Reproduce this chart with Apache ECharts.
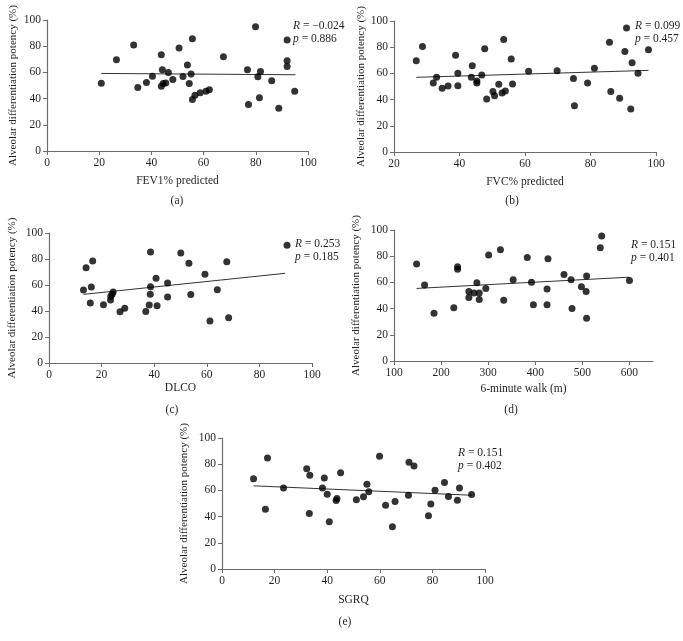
<!DOCTYPE html>
<html>
<head>
<meta charset="utf-8">
<script src="https://cdn.jsdelivr.net/npm/echarts@6/dist/echarts.min.js"></script>
<style>
html,body{margin:0;padding:0;background:#fff;}
#chart{width:683px;height:641px;}
</style>
</head>
<body>
<div id="chart"></div>
<script>
// ---- Data ----
const yTitle = 'Alveolar differentiation potency (%)';
const xTitles = ['FEV1% predicted', 'FVC% predicted', 'DLCO', '6-minute walk (m)', 'SGRQ'];
const captions = ['(a)', '(b)', '(c)', '(d)', '(e)'];
const rValues = ['−0.024', '0.099', '0.253', '0.151', '0.151'];
const pValues = ['0.886', '0.457', '0.185', '0.401', '0.402'];
const yTicks = [0, 20, 40, 60, 80, 100];
const walkTicks = [100, 200, 300, 400, 500, 600];

const fev1X = [20.8,26.6,33.2,34.8,38.1,40.4,43.8,44.2,43.8,44.5,45.5,46.5,48.2,50.6,52.1,53.8,55.7,55.2,54.5,55.7,56.7,58.7,60.9,62.2,67.6,76.8,77.2,79.9,80.8,81.4,81.8,86.1,88.8,92.0,92.0,92.0,94.9];
const fev1Y = [51.8,69.6,80.9,48.5,52.3,57.1,73.5,62.0,49.5,51.5,52.0,59.9,54.6,78.6,56.9,65.6,85.7,58.7,51.5,39.3,42.6,44.4,45.7,46.7,71.9,62.0,35.5,94.9,56.6,40.6,60.7,53.6,32.7,84.7,68.9,64.5,45.7];
const fev1Trend = [[20.8,59.2],[95.2,58.2]];

const fvcX = [26.8,28.7,32.0,33.0,34.7,36.5,38.8,39.5,39.5,43.6,43.9,45.3,45.3,46.8,47.7,48.3,50.2,50.7,52.0,53.0,53.5,54.0,55.8,56.2,61.1,69.8,74.8,75.1,79.1,81.2,85.8,86.2,88.9,90.5,91.0,92.3,92.7,94.5,97.7];
const fvcY = [69.7,80.6,52.7,57.0,48.6,50.4,73.8,60.1,50.6,57.0,65.9,54.2,52.7,58.8,78.9,40.5,46.1,43.0,51.7,45.0,85.8,46.6,71.0,51.9,61.6,62.1,56.2,35.4,52.7,63.9,83.7,46.1,41.0,76.8,94.7,32.8,68.2,60.1,78.1];
const fvcTrend = [[26.8,57.0],[97.7,62.3]];

const dlcoX = [13.1,14.1,16.6,16.1,15.7,20.7,23.4,23.5,24.0,24.4,27.0,28.8,36.8,38.1,38.6,38.6,38.5,40.7,41.1,45.1,45.1,50.1,53.2,53.9,59.3,61.2,64.0,67.6,68.3,90.5];
const dlcoY = [56.2,73.3,78.5,58.5,46.2,44.9,48.5,51.3,52.8,54.6,39.5,42.1,39.7,44.6,85.4,58.7,52.8,65.1,44.1,61.5,50.8,84.6,76.7,52.6,68.2,32.3,56.4,77.9,34.9,90.5];
const dlcoTrend = [[13.1,52.8],[89.8,69.0]];

const walkX = [148,165,185,227,235,235,259,259,270,276,281,281,295,301,326,333,353,383,392,396,425,425,427,461,476,478,498,508,509,509,538,541,600];
const walkY = [74,58,36.5,40.6,72,70,53,48.5,52,59.7,52,47,55.4,81,85,46.4,62,79,60.2,43,43,55,78,66,62,40,56.6,53,32.7,64.8,86.5,95.4,61.5];
const walkTrend = [[148,55.4],[600,64.0]];

const sgrqX = [12.0,16.5,17.3,23.4,32.2,33.4,33.2,38.2,38.9,40.0,40.8,43.4,43.7,45.1,51.1,53.8,55.1,55.8,59.9,62.2,65.8,64.8,70.9,71.1,73.0,78.5,79.4,81.0,84.6,86.1,89.5,90.3,94.9];
const sgrqY = [68.8,45.7,84.8,61.9,76.6,71.6,42.4,61.9,69.5,57.1,36.0,52.3,53.8,73.4,52.8,55.1,64.7,58.9,86.0,48.7,51.5,32.2,56.3,81.5,78.7,40.6,49.7,60.2,66.0,55.3,52.5,61.9,56.9];
const sgrqTrend = [[12.0,63.5],[95.0,56.3]];

// ---- Layout ----
const FONT = "'Liberation Serif', 'DejaVu Serif', serif";
const TXT = '#231f20';
const AX = '#6d6d6d';

const panels = [
  {x: fev1X, y: fev1Y, t: fev1Trend, grid: {left: 47, top: 20, width: 261, height: 131}, xmin: 0, xmax: 100, xint: 20, xGap: 24, yGap: 28, ann: [293, 19], cap: [177, 201]},
  {x: fvcX, y: fvcY, t: fvcTrend, grid: {left: 394, top: 21, width: 262, height: 131}, xmin: 20, xmax: 100, xint: 20, xGap: 24, yGap: 27, ann: [635, 19], cap: [512, 201]},
  {x: dlcoX, y: dlcoY, t: dlcoTrend, grid: {left: 49, top: 233, width: 263, height: 130}, xmin: 0, xmax: 100, xint: 20, xGap: 19, yGap: 31, ann: [295, 237], cap: [172, 410]},
  {x: walkX, y: walkY, t: walkTrend, grid: {left: 394, top: 230, width: 259, height: 131}, xmin: 100, xmax: 650, xint: 100, xGap: 22, yGap: 32, ann: [631, 238], cap: [511, 410], custom: walkTicks},
  {x: sgrqX, y: sgrqY, t: sgrqTrend, grid: {left: 222, top: 438, width: 263, height: 131}, xmin: 0, xmax: 100, xint: 20, xGap: 25, yGap: 32, ann: [458, 446], cap: [345, 622]}
];

const grids = [], xAxes = [], yAxes = [], series = [], graphics = [];
panels.forEach((p, i) => {
  grids.push(Object.assign({containLabel: false}, p.grid));
  const xa = {
    gridIndex: i, type: 'value', min: p.xmin, max: p.xmax, interval: p.xint,
    name: xTitles[i], nameLocation: 'middle', nameGap: p.xGap,
    nameTextStyle: {fontFamily: FONT, fontSize: 11.5, color: TXT},
    axisLine: {show: true, onZero: false, lineStyle: {color: AX, width: 1.2}},
    axisTick: {show: true, length: 4, inside: false, lineStyle: {color: AX}},
    axisLabel: {fontFamily: FONT, fontSize: 11.5, color: TXT, margin: 6},
    splitLine: {show: false}
  };
  if (p.custom) {
    xa.axisTick.customValues = p.custom;
    xa.axisLabel.customValues = p.custom;
  }
  xAxes.push(xa);
  yAxes.push({
    gridIndex: i, type: 'value', min: 0, max: 100, interval: 20,
    name: yTitle, nameLocation: 'middle', nameGap: p.yGap, nameRotate: 90,
    nameTextStyle: {fontFamily: FONT, fontSize: 11, color: TXT},
    axisLine: {show: true, onZero: false, lineStyle: {color: AX, width: 1.2}},
    axisTick: {show: true, length: 4, inside: false, lineStyle: {color: AX}},
    axisLabel: {fontFamily: FONT, fontSize: 11.5, color: TXT, margin: 6},
    splitLine: {show: false}
  });
  series.push({
    type: 'scatter', xAxisIndex: i, yAxisIndex: i,
    data: p.x.map((v, k) => [v, p.y[k]]),
    symbol: 'circle', symbolSize: 7,
    itemStyle: {color: '#000'}, z: 3
  });
  series.push({
    type: 'line', xAxisIndex: i, yAxisIndex: i,
    data: p.t, symbol: 'none', silent: true,
    lineStyle: {color: '#333', width: 1}, z: 2
  });
  graphics.push({
    type: 'text', left: p.ann[0], top: p.ann[1],
    style: {
      text: '{i|R} = ' + rValues[i] + '\n{i|p} = ' + pValues[i],
      fontFamily: FONT, fontSize: 11.5, fill: TXT, lineHeight: 13.5,
      rich: {i: {fontStyle: 'italic', fontFamily: FONT, fontSize: 11.5, fill: TXT, lineHeight: 13.5}}
    }
  });
  graphics.push({
    type: 'text', x: p.cap[0], y: p.cap[1],
    style: {text: captions[i], fontFamily: FONT, fontSize: 11.5, fill: TXT, align: 'center', verticalAlign: 'middle'}
  });
});

const chart = echarts.init(document.getElementById('chart'), null, {renderer: 'canvas'});
chart.setOption({
  animation: false,
  backgroundColor: '#fff',
  grid: grids,
  xAxis: xAxes,
  yAxis: yAxes,
  series: series,
  graphic: graphics
});
</script>
</body>
</html>
